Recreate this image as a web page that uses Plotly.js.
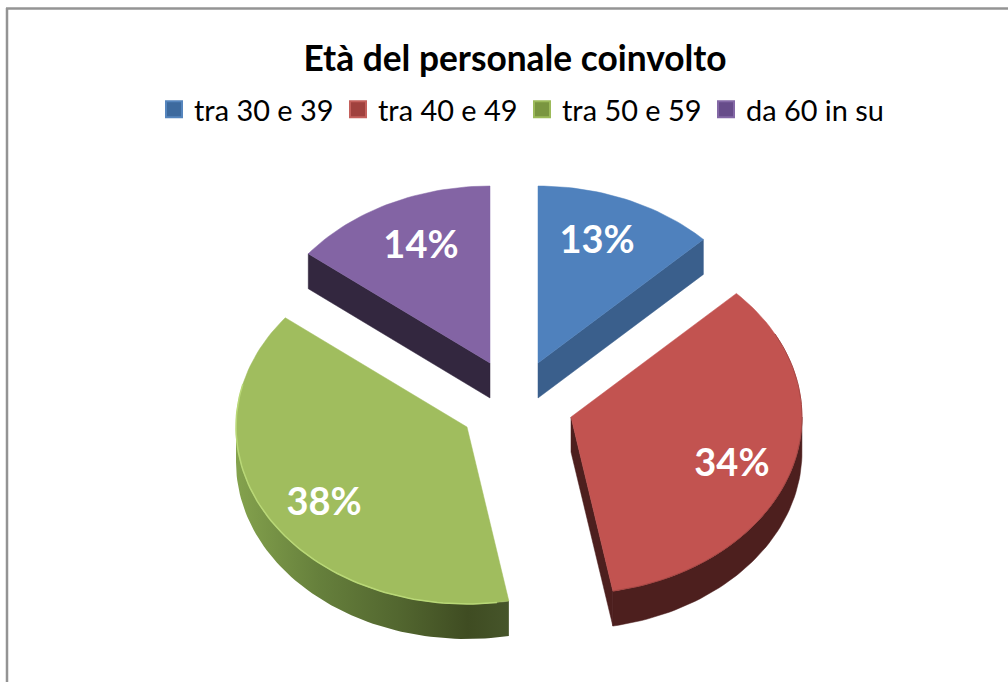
<!DOCTYPE html>
<html>
<head>
<meta charset="utf-8">
<script src="https://cdn.plot.ly/plotly-3.0.1.min.js"></script>
<style>html,body{margin:0;padding:0;background:#fff}#chart{width:1008px;height:682px}</style>
</head>
<body>
<div id="chart"></div>
<script>
// Data
const categories = ['tra 30 e 39', 'tra 40 e 49', 'tra 50 e 59', 'da 60 in su'];
const values = [12.7, 34.4, 38.49, 14.41];
const labels = ['13%', '34%', '38%', '14%'];

// Styles
const topColors = ['#4f81bd', '#c25350', '#a0bd5e', '#8364a4'];
const wallColors = ['#3a5f8c', '#4d1f1e', '#46552a', '#33273f'];
const swatchFill = ['#3d6a9e', '#a0413e', '#7a9640', '#674c8a'];
const swatchEdge = ['#5585bd', '#c4605c', '#9cba5a', '#8468a6'];

// Exploded 3D pie geometry (in axis units, which equal page pixels)
const centresX = [538, 571, 467, 490];
const centresY = [363, 417, 427, 363];
const radiusX = 231, radiusY = 177, depth = 35;
const labelFracX = [0.659, 0.731, 0.723, 0.683];
const labelFracY = [0.735, 0.914, 0.852, 0.722];

const total = values.reduce((a, b) => a + b, 0);
const starts = [];
values.reduce((acc, v, i) => { starts[i] = acc; return acc + v / total * 360; }, 0);
const ends = values.map((v, i) => starts[i] + v / total * 360);

const rad = d => d * Math.PI / 180;
const px = (i, a) => centresX[i] + radiusX * Math.sin(rad(a));
const py = (i, a) => centresY[i] - radiusY * Math.cos(rad(a));
function arc(i, a0, a1) {
  const n = Math.max(2, Math.ceil(Math.abs(a1 - a0) / 1.5));
  const xs = [], ys = [];
  for (let k = 0; k <= n; k++) {
    const a = a0 + (a1 - a0) * k / n;
    xs.push(px(i, a)); ys.push(py(i, a));
  }
  return [xs, ys];
}
const base = {type: 'scatter', mode: 'lines', hoverinfo: 'skip', showlegend: false, fill: 'toself'};
const traces = [];

function wall(i, xs, ys, opts) {
  traces.push(Object.assign({}, base, {
    x: xs.concat([xs[0]]), y: ys.concat([ys[0]]),
    line: {width: 0.5, color: wallColors[i]}, fillcolor: wallColors[i]
  }, opts || {}));
}
function outerWall(i, opts) {
  const a0 = Math.max(starts[i], 90), a1 = Math.min(ends[i], 270);
  if (a1 <= a0) return;
  const [xs, ys] = arc(i, a0, a1);
  wall(i, xs.concat(xs.slice().reverse()),
       ys.concat(ys.slice().reverse().map(y => y + depth)), opts);
}
function cutWall(i, a) {
  const cx = centresX[i], cy = centresY[i], ex = px(i, a), ey = py(i, a);
  wall(i, [cx, ex, ex, cx], [cy, ey, ey + depth, cy + depth]);
}

cutWall(0, ends[0]);
cutWall(1, ends[1]);
cutWall(3, starts[3]);
outerWall(1);
outerWall(2, {
  fillcolor: '#46552a',
  line: {width: 0},
  fillgradient: {type: 'horizontal', colorscale: [
    [0, '#84a24d'], [0.3, '#66803c'], [0.6, '#52662f'], [0.85, '#3f4c22'], [1, '#46552a']
  ]}
});

values.forEach((v, i) => {
  const [xs, ys] = arc(i, starts[i], ends[i]);
  traces.push(Object.assign({}, base, {
    x: [centresX[i]].concat(xs, [centresX[i]]),
    y: [centresY[i]].concat(ys, [centresY[i]]),
    line: {width: 0.5, color: topColors[i]}, fillcolor: topColors[i]
  }));
});

// Rim highlights on the green and red slices
const [gx, gy] = arc(2, starts[2] + 3, Math.min(ends[2], 284));
traces.push({type: 'scatter', mode: 'lines', hoverinfo: 'skip', showlegend: false,
  x: gx, y: gy, line: {width: 1.5, color: '#b9d877'}});
const [rx, ry] = arc(1, 62, ends[1]);
traces.push({type: 'scatter', mode: 'lines', hoverinfo: 'skip', showlegend: false,
  x: rx, y: ry, line: {width: 1, color: '#a64744'}});

// Percentage labels
traces.push({
  type: 'scatter', mode: 'text', hoverinfo: 'skip', showlegend: false, cliponaxis: false,
  x: values.map((v, i) => centresX[i] + labelFracX[i] * radiusX * Math.sin(rad((starts[i] + ends[i]) / 2))),
  y: values.map((v, i) => centresY[i] - labelFracY[i] * radiusY * Math.cos(rad((starts[i] + ends[i]) / 2))),
  text: labels,
  textposition: 'middle center',
  textfont: {family: 'Lato, Carlito, sans-serif', size: 38, weight: 700, color: '#ffffff'}
});

// Legend entries
categories.forEach((c, i) => {
  traces.push({
    type: 'scatter', mode: 'markers', name: c, hoverinfo: 'skip',
    x: [-100], y: [-100],
    marker: {symbol: 'square', size: 16, color: swatchFill[i],
      line: {width: 2, color: swatchEdge[i]}}
  });
});

const layout = {
  width: 1008, height: 682,
  margin: {l: 0, r: 0, t: 0, b: 0},
  paper_bgcolor: '#ffffff', plot_bgcolor: '#ffffff',
  font: {family: 'Lato, Carlito, sans-serif', color: '#000000'},
  title: {
    text: '<b>Età del personale coinvolto</b>',
    font: {family: 'Lato, Carlito, sans-serif', size: 35.3, color: '#000000'},
    x: 515 / 1008, xref: 'paper', xanchor: 'center',
    y: 1 - 59 / 682, yref: 'paper', yanchor: 'middle'
  },
  showlegend: true,
  legend: {
    orientation: 'h', x: 154 / 1008, xanchor: 'left', y: 1 - 84 / 682, yanchor: 'top',
    font: {size: 28.9, color: '#000000'}, itemwidth: 30,
    entrywidth: 139, entrywidthmode: 'pixels',
    itemclick: false, itemdoubleclick: false, traceorder: 'normal',
    bgcolor: 'rgba(0,0,0,0)'
  },
  xaxis: {range: [0, 1008], visible: false, fixedrange: true},
  yaxis: {range: [682, 0], visible: false, fixedrange: true},
  shapes: [
    {type: 'line', xref: 'x', yref: 'y', x0: 7, x1: 7, y0: 8, y1: 682, line: {color: '#949494', width: 2.5}},
    {type: 'line', xref: 'x', yref: 'y', x0: 6, x1: 1008, y0: 8.5, y1: 8.5, line: {color: '#949494', width: 2.5}}
  ]
};
Plotly.newPlot('chart', traces, layout, {staticPlot: true, displayModeBar: false});
</script>
</body>
</html>
